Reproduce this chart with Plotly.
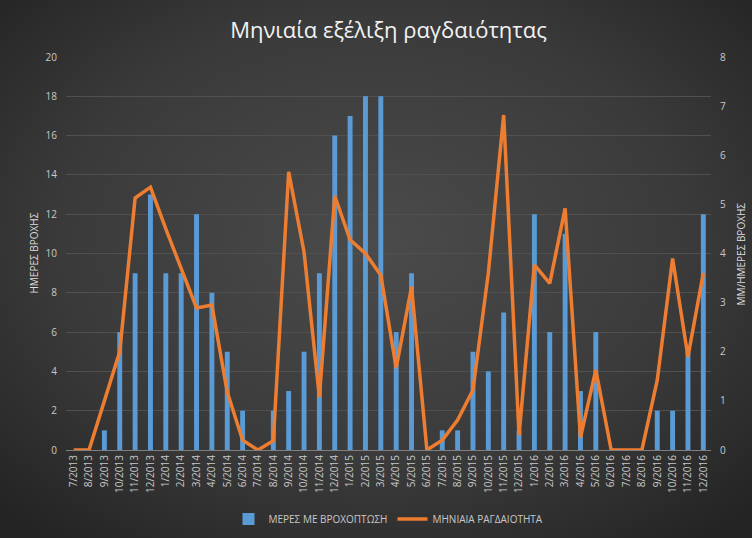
import base64
import plotly.graph_objects as go

months = ["7/2013", "8/2013", "9/2013", "10/2013", "11/2013", "12/2013",
          "1/2014", "2/2014", "3/2014", "4/2014", "5/2014", "6/2014",
          "7/2014", "8/2014", "9/2014", "10/2014", "11/2014", "12/2014",
          "1/2015", "2/2015", "3/2015", "4/2015", "5/2015", "6/2015",
          "7/2015", "8/2015", "9/2015", "10/2015", "11/2015", "12/2015",
          "1/2016", "2/2016", "3/2016", "4/2016", "5/2016", "6/2016",
          "7/2016", "8/2016", "9/2016", "10/2016", "11/2016", "12/2016"]

rain_days = [0, 0, 1, 6, 9, 13,
             9, 9, 12, 8, 5, 2,
             0, 2, 3, 5, 9, 16,
             17, 18, 18, 6, 9, 0,
             1, 1, 5, 4, 7, 1,
             12, 6, 11, 3, 6, 0,
             0, 0, 2, 2, 5, 12]

intensity = [0, 0, 1.0, 2.0, 5.13, 5.35,
             4.5, 3.7, 2.89, 2.95, 1.18, 0.2,
             0, 0.19, 5.66, 4.03, 1.08, 5.17,
             4.28, 4.0, 3.56, 1.67, 3.32, 0,
             0.2, 0.61, 1.22, 3.6, 6.82, 0.3,
             3.77, 3.39, 4.92, 0.25, 1.63, 0,
             0, 0, 1.42, 3.9, 1.9, 3.6]

left_ticks = [0, 2, 4, 6, 8, 10, 12, 14, 16, 18, 20]
right_ticks = [0, 1, 2, 3, 4, 5, 6, 7, 8]

W, H = 752, 538
ML, MR, MT, MB = 66, 41, 57, 88
PW, PH = W - ML - MR, H - MT - MB

svg = (
    f'<svg xmlns="http://www.w3.org/2000/svg" width="{W}" height="{H}">'
    '<defs><radialGradient id="g" cx="50%" cy="45%" r="70%">'
    '<stop offset="0%" stop-color="#4b4b4b"/>'
    '<stop offset="60%" stop-color="#3a3a3a"/>'
    '<stop offset="100%" stop-color="#242424"/>'
    '</radialGradient></defs>'
    f'<rect width="{W}" height="{H}" fill="url(#g)"/></svg>'
)
bg_uri = "data:image/svg+xml;base64," + base64.b64encode(svg.encode()).decode()

FONT = "Open Sans"
TXT = "#c8c8c8"

fig = go.Figure()
fig.add_trace(go.Bar(
    x=months, y=rain_days, name="ΜΕΡΕΣ ΜΕ ΒΡΟΧΟΠΤΩΣΗ",
    marker=dict(color="#5b9bd5", line=dict(width=0)), width=0.32,
    yaxis="y"))
fig.add_trace(go.Scatter(
    x=months, y=intensity, name="ΜΗΝΙΑΙΑ ΡΑΓΔΑΙΟΤΗΤΑ", mode="lines",
    line=dict(color="#ed7d31", width=3.5), yaxis="y2"))

fig.update_layout(
    width=W, height=H,
    margin=dict(l=ML, r=MR, t=MT, b=MB, autoexpand=False),
    paper_bgcolor="#333333", plot_bgcolor="rgba(0,0,0,0)",
    images=[dict(source=bg_uri, xref="paper", yref="paper",
                 x=-ML / PW, y=1 + MT / PH, sizex=W / PW, sizey=H / PH,
                 xanchor="left", yanchor="top", sizing="stretch", layer="below")],
    title=dict(text="Μηνιαία εξέλιξη ραγδαιότητας", x=0.5, xref="paper",
               y=1 - 30 / H, yanchor="middle",
               font=dict(family=FONT, size=22, color="#f2f2f2")),
    font=dict(family=FONT, color=TXT),
    showlegend=True,
    legend=dict(orientation="h", x=0.5, xanchor="center", y=-69 / PH,
                yanchor="middle", font=dict(size=10, color=TXT),
                bgcolor="rgba(0,0,0,0)"),
    bargap=0.5,
    xaxis=dict(type="category", tickangle=-90, tickfont=dict(size=10, color=TXT),
               showgrid=False, showline=True, linecolor="#7f7f7f", linewidth=1,
               ticks="", range=[-0.5, len(months) - 0.5], automargin=False),
    yaxis=dict(range=[0, 20], tickvals=left_ticks, tickfont=dict(size=10, color=TXT),
               gridcolor="#505050", gridwidth=1, zeroline=False, showline=False,
               ticklabelstandoff=8, automargin=False),
    yaxis2=dict(range=[0, 8], tickvals=right_ticks, overlaying="y", side="right",
                tickfont=dict(size=10, color=TXT), showgrid=False, zeroline=False,
                ticklabelstandoff=8, automargin=False),
    annotations=[
        dict(text="ΗΜΕΡΕΣ ΒΡΟΧΗΣ", xref="paper", yref="paper",
             x=(33 - ML) / PW, y=0.5, textangle=-90, showarrow=False,
             xanchor="center", yanchor="middle",
             font=dict(size=10, color="#dddddd")),
        dict(text="ΜΜ/ΗΜΕΡΕΣ ΒΡΟΧΗΣ", xref="paper", yref="paper",
             x=(740 - ML) / PW, y=0.5, textangle=-90, showarrow=False,
             xanchor="center", yanchor="middle",
             font=dict(size=10, color="#dddddd")),
    ],
)

fig.write_html("out.html", config={"displayModeBar": False},
               post_script="document.body.style.margin='0';document.body.style.overflow='hidden';")
